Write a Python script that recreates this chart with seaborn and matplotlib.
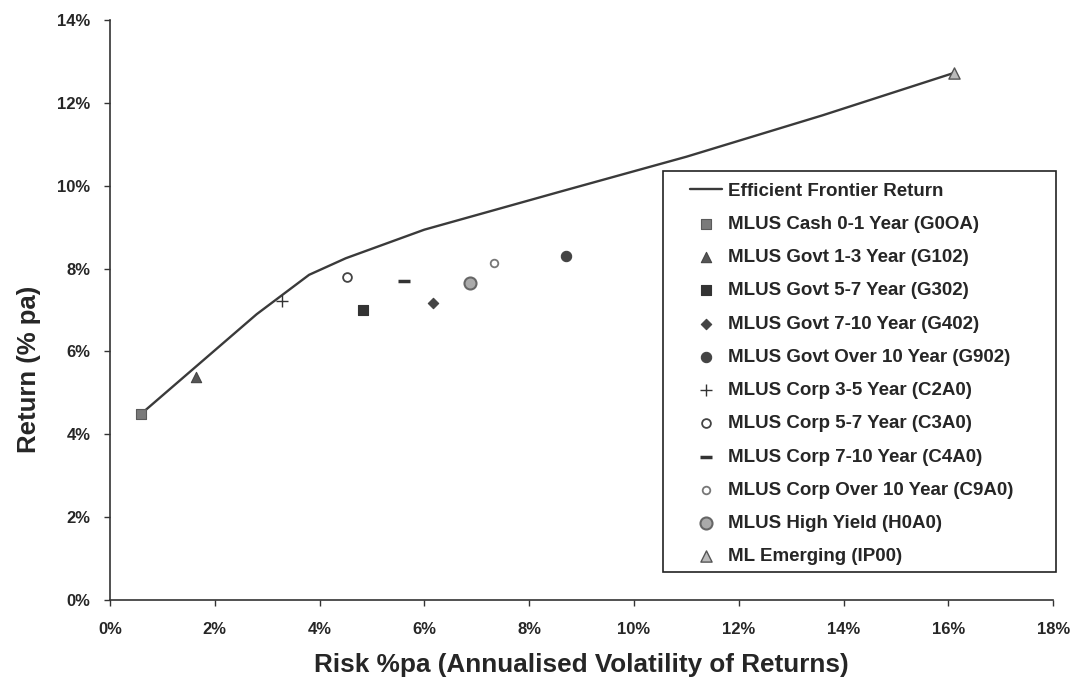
import matplotlib
matplotlib.use("Agg")
import matplotlib.pyplot as plt
import seaborn as sns
import pandas as pd
from matplotlib.ticker import FuncFormatter
from matplotlib.patches import Rectangle

# ---------------- data ----------------
frontier_risk = [0.6, 1.7, 2.8, 3.8, 4.5, 6.0, 8.6, 11.0, 13.6, 16.1]
frontier_return = [4.5, 5.7, 6.9, 7.85, 8.25, 8.94, 9.86, 10.7, 11.7, 12.72]

asset_names = [
    "MLUS Cash 0-1 Year (G0OA)",
    "MLUS Govt 1-3 Year (G102)",
    "MLUS Govt 5-7 Year (G302)",
    "MLUS Govt 7-10 Year (G402)",
    "MLUS Govt Over 10 Year (G902)",
    "MLUS Corp 3-5 Year (C2A0)",
    "MLUS Corp 5-7 Year (C3A0)",
    "MLUS Corp 7-10 Year (C4A0)",
    "MLUS Corp Over 10 Year (C9A0)",
    "MLUS High Yield (H0A0)",
    "ML Emerging (IP00)",
]
asset_risk = [0.6, 1.65, 4.83, 6.17, 8.70, 3.28, 4.52, 5.61, 7.32, 6.88, 16.11]
asset_return = [4.5, 5.39, 7.0, 7.18, 8.31, 7.22, 7.79, 7.71, 8.13, 7.66, 12.72]

x_ticks = [0, 2, 4, 6, 8, 10, 12, 14, 16, 18]
y_ticks = [0, 2, 4, 6, 8, 10, 12, 14]

# ---------------- styles ----------------
marker_styles = [
    dict(marker="s", s=55, color="#7a7a7a", edgecolor="#5a5a5a", linewidth=0.8),
    dict(marker="^", s=55, color="#555555", edgecolor="#444444", linewidth=0.8),
    dict(marker="s", s=50, color="#333333", edgecolor="#333333", linewidth=0.8),
    dict(marker="D", s=28, color="#444444", edgecolor="#444444", linewidth=0.8),
    dict(marker="o", s=55, color="#444444", edgecolor="#444444", linewidth=0.8),
    dict(marker="+", s=70, color="#333333", linewidth=1.0),
    dict(marker="o", s=40, color="white", edgecolor="#444444", linewidth=1.3),
    dict(marker="_", s=80, color="#333333", linewidth=2.5),
    dict(marker="o", s=30, color="white", edgecolor="#777777", linewidth=1.3),
    dict(marker="o", s=75, color="#aaaaaa", edgecolor="#666666", linewidth=1.5),
    dict(marker="^", s=65, color="#bbbbbb", edgecolor="#555555", linewidth=1.0),
]

sns.set_theme(style="white")
FONT = ["Liberation Sans", "DejaVu Sans"]
plt.rcParams["font.family"] = FONT
plt.rcParams["font.weight"] = "bold"

fig = plt.figure(figsize=(10.78, 6.89), dpi=100)
ax = fig.add_axes([0.102, 0.129, 0.875, 0.842])

df_front = pd.DataFrame({"risk": frontier_risk, "ret": frontier_return})
sns.lineplot(data=df_front, x="risk", y="ret", ax=ax, color="#3a3a3a",
             linewidth=1.7, label="Efficient Frontier Return", sort=False)

for name, xr, yr, st in zip(asset_names, asset_risk, asset_return, marker_styles):
    sns.scatterplot(x=[xr], y=[yr], ax=ax, label=name, zorder=3, **st)

ax.set_xlim(0, 18)
ax.set_ylim(0, 14)
ax.set_xticks(x_ticks)
ax.set_yticks(y_ticks)
pct = FuncFormatter(lambda v, p: f"{v:.0f}%")
ax.xaxis.set_major_formatter(pct)
ax.yaxis.set_major_formatter(pct)
ax.tick_params(axis="x", direction="out", length=4, width=1, color="#333333",
               labelsize=12, pad=12, bottom=True)
ax.tick_params(axis="y", direction="out", length=4, width=1, color="#333333",
               labelsize=12, pad=10, left=True)
for lbl in ax.get_xticklabels() + ax.get_yticklabels():
    lbl.set_fontweight("bold")

for side in ["top", "right"]:
    ax.spines[side].set_visible(False)
for side in ["left", "bottom"]:
    ax.spines[side].set_color("#333333")
    ax.spines[side].set_linewidth(1.2)

ax.set_xlabel("Risk %pa (Annualised Volatility of Returns)", fontsize=18.8,
              fontweight="bold", labelpad=11)
ax.set_ylabel("Return (% pa)", fontsize=18.5, fontweight="bold")
ax.yaxis.set_label_coords(-0.073, 0.397)

# legend frame (layout box, axes coordinates)
ax.add_patch(Rectangle((0.5864, 0.0483), 0.4168, 0.6914, transform=ax.transAxes,
                       facecolor="white", edgecolor="#222222", linewidth=1.2,
                       zorder=4, clip_on=False))
leg = ax.legend(loc="upper left", bbox_to_anchor=(0.615, 0.72),
                frameon=False, fontsize=13.5, labelspacing=0.86,
                handlelength=1.7, borderpad=0, handletextpad=0.3,
                borderaxespad=0)
leg.set_zorder(5)
for t in leg.get_texts():
    t.set_fontweight("bold")

fig.savefig("out.png", dpi=100, facecolor="white")
